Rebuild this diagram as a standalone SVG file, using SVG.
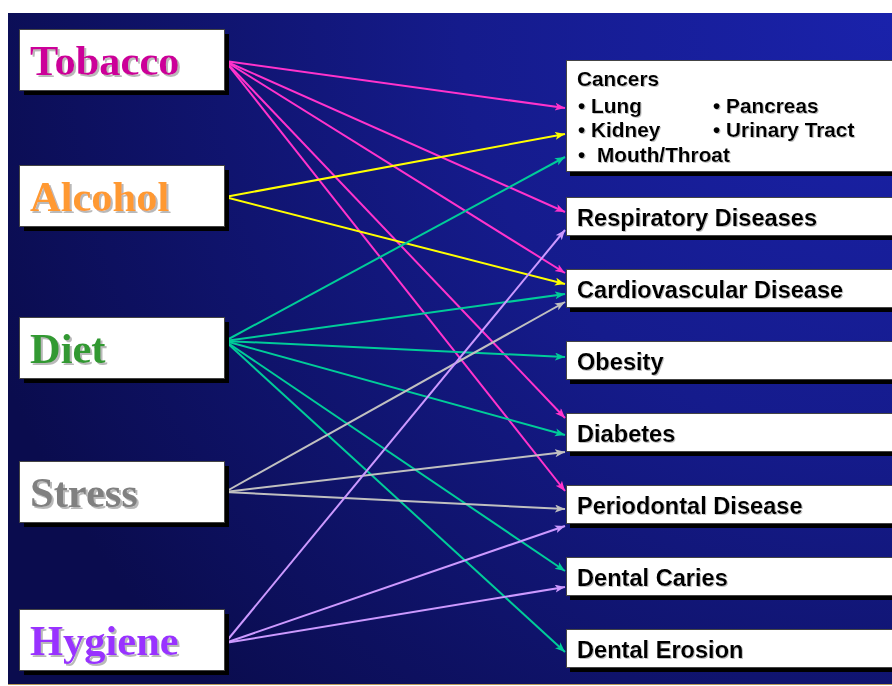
<svg xmlns="http://www.w3.org/2000/svg" width="892" height="686" viewBox="0 0 892 686">
<style>
.lbox{fill:#fff;stroke:#444;stroke-width:1}
.sh{fill:#000}
.lt{font-family:"Liberation Serif","Times New Roman",serif;font-weight:bold;font-size:42.5px;filter:url(#ls)}
.rt{font-family:"Liberation Sans",Arial,sans-serif;font-weight:bold;font-size:23.6px;fill:#000;filter:url(#rs)}
.ct{font-family:"Liberation Sans",Arial,sans-serif;font-weight:bold;font-size:20.8px;fill:#000;filter:url(#rs)}
.c{fill:none;stroke-width:2}
.tob{stroke:#ff33cc}.alc{stroke:#ffff00}.diet{stroke:#00cc99}.str{stroke:#c0c0c0}.hyg{stroke:#cc99ff}
</style>
<defs>
<radialGradient id="bg" cx="892" cy="13" r="960" gradientUnits="userSpaceOnUse">
<stop offset="0" stop-color="#1a22ab"/>
<stop offset="0.45" stop-color="#151b8c"/>
<stop offset="1" stop-color="#0a0c4e"/>
</radialGradient>
<filter id="ls" x="-5%" y="-10%" width="115%" height="130%">
<feDropShadow dx="2" dy="2" stdDeviation="0.6" flood-color="#a8a8a8" flood-opacity="0.8"/>
</filter>
<filter id="rs" x="-5%" y="-10%" width="115%" height="130%">
<feDropShadow dx="1" dy="1" stdDeviation="0.5" flood-color="#999" flood-opacity="0.6"/>
</filter>
<marker id="aT" markerUnits="userSpaceOnUse" markerWidth="11" markerHeight="9" refX="10" refY="4" orient="auto"><path d="M0,0 L10,4 L0,8 L2.5,4 z" fill="#ff33cc"/></marker>
<marker id="aA" markerUnits="userSpaceOnUse" markerWidth="11" markerHeight="9" refX="10" refY="4" orient="auto"><path d="M0,0 L10,4 L0,8 L2.5,4 z" fill="#ffff00"/></marker>
<marker id="aD" markerUnits="userSpaceOnUse" markerWidth="11" markerHeight="9" refX="10" refY="4" orient="auto"><path d="M0,0 L10,4 L0,8 L2.5,4 z" fill="#00cc99"/></marker>
<marker id="aS" markerUnits="userSpaceOnUse" markerWidth="11" markerHeight="9" refX="10" refY="4" orient="auto"><path d="M0,0 L10,4 L0,8 L2.5,4 z" fill="#c0c0c0"/></marker>
<marker id="aH" markerUnits="userSpaceOnUse" markerWidth="11" markerHeight="9" refX="10" refY="4" orient="auto"><path d="M0,0 L10,4 L0,8 L2.5,4 z" fill="#cc99ff"/></marker>
</defs>
<rect x="0" y="0" width="892" height="686" fill="#fff"/>
<rect x="8" y="13" width="884" height="671" fill="url(#bg)"/>
<line x1="8" y1="684.5" x2="892" y2="684.5" stroke="#b89a5a" stroke-width="1"/>

<g id="connectors">
<g class="c tob" marker-end="url(#aT)">
<line x1="225" y1="61" x2="565" y2="108"/>
<line x1="225" y1="61" x2="565" y2="212"/>
<line x1="225" y1="61" x2="565" y2="273"/>
<line x1="225" y1="61" x2="565" y2="418"/>
<line x1="225" y1="61" x2="565" y2="491"/>
</g>
<g class="c alc" marker-end="url(#aA)">
<line x1="225" y1="197" x2="565" y2="134"/>
<line x1="225" y1="197" x2="565" y2="284"/>
</g>
<g class="c diet" marker-end="url(#aD)">
<line x1="225" y1="341" x2="565" y2="157"/>
<line x1="225" y1="341" x2="565" y2="294"/>
<line x1="225" y1="341" x2="565" y2="357"/>
<line x1="225" y1="341" x2="565" y2="435"/>
<line x1="225" y1="341" x2="565" y2="571"/>
<line x1="225" y1="341" x2="565" y2="652"/>
</g>
<g class="c str" marker-end="url(#aS)">
<line x1="225" y1="492" x2="565" y2="302"/>
<line x1="225" y1="492" x2="565" y2="452"/>
<line x1="225" y1="492" x2="565" y2="509"/>
</g>
<g class="c hyg" marker-end="url(#aH)">
<line x1="225" y1="643" x2="565" y2="230"/>
<line x1="225" y1="643" x2="565" y2="526"/>
<line x1="225" y1="643" x2="565" y2="587"/>
</g>
</g>

<g id="tobacco">
<rect class="sh" x="24" y="34" width="205" height="61"/>
<rect class="lbox" x="19.5" y="29.5" width="205" height="61"/>
<text class="lt" x="30" y="75" fill="#cc0099">Tobacco</text>
</g>
<g id="alcohol">
<rect class="sh" x="24" y="170" width="205" height="61"/>
<rect class="lbox" x="19.5" y="165.5" width="205" height="61"/>
<text class="lt" x="30" y="211" fill="#ff9933">Alcohol</text>
</g>
<g id="diet">
<rect class="sh" x="24" y="322" width="205" height="61"/>
<rect class="lbox" x="19.5" y="317.5" width="205" height="61"/>
<text class="lt" x="30" y="363" fill="#339933">Diet</text>
</g>
<g id="stress">
<rect class="sh" x="24" y="466" width="205" height="61"/>
<rect class="lbox" x="19.5" y="461.5" width="205" height="61"/>
<text class="lt" x="30" y="507" fill="#808080">Stress</text>
</g>
<g id="hygiene">
<rect class="sh" x="24" y="614" width="205" height="61"/>
<rect class="lbox" x="19.5" y="609.5" width="205" height="61"/>
<text class="lt" x="30" y="655" fill="#9933ff">Hygiene</text>
</g>

<g id="cancers">
<rect class="sh" x="570" y="64" width="340" height="112"/>
<rect class="lbox" x="566.5" y="60.5" width="340" height="111"/>
<text class="ct" x="577" y="86">Cancers</text>
<text class="ct" x="578" y="113">• Lung</text>
<text class="ct" x="713" y="113">• Pancreas</text>
<text class="ct" x="578" y="137">• Kidney</text>
<text class="ct" x="713" y="137">• Urinary Tract</text>
<text class="ct" x="578" y="162">•</text>
<text class="ct" x="597" y="162">Mouth/Throat</text>
</g>
<g id="respiratory">
<rect class="sh" x="570" y="201" width="340" height="39"/>
<rect class="lbox" x="566.5" y="197.5" width="340" height="38"/>
<text class="rt" x="577" y="226">Respiratory Diseases</text>
</g>
<g id="cardiovascular">
<rect class="sh" x="570" y="273" width="340" height="39"/>
<rect class="lbox" x="566.5" y="269.5" width="340" height="38"/>
<text class="rt" x="577" y="298">Cardiovascular Disease</text>
</g>
<g id="obesity">
<rect class="sh" x="570" y="345" width="340" height="39"/>
<rect class="lbox" x="566.5" y="341.5" width="340" height="38"/>
<text class="rt" x="577" y="370">Obesity</text>
</g>
<g id="diabetes">
<rect class="sh" x="570" y="417" width="340" height="39"/>
<rect class="lbox" x="566.5" y="413.5" width="340" height="38"/>
<text class="rt" x="577" y="442">Diabetes</text>
</g>
<g id="periodontal">
<rect class="sh" x="570" y="489" width="340" height="39"/>
<rect class="lbox" x="566.5" y="485.5" width="340" height="38"/>
<text class="rt" x="577" y="514">Periodontal Disease</text>
</g>
<g id="caries">
<rect class="sh" x="570" y="561" width="340" height="39"/>
<rect class="lbox" x="566.5" y="557.5" width="340" height="38"/>
<text class="rt" x="577" y="586">Dental Caries</text>
</g>
<g id="erosion">
<rect class="sh" x="570" y="633" width="340" height="39"/>
<rect class="lbox" x="566.5" y="629.5" width="340" height="38"/>
<text class="rt" x="577" y="658">Dental Erosion</text>
</g>
</svg>
